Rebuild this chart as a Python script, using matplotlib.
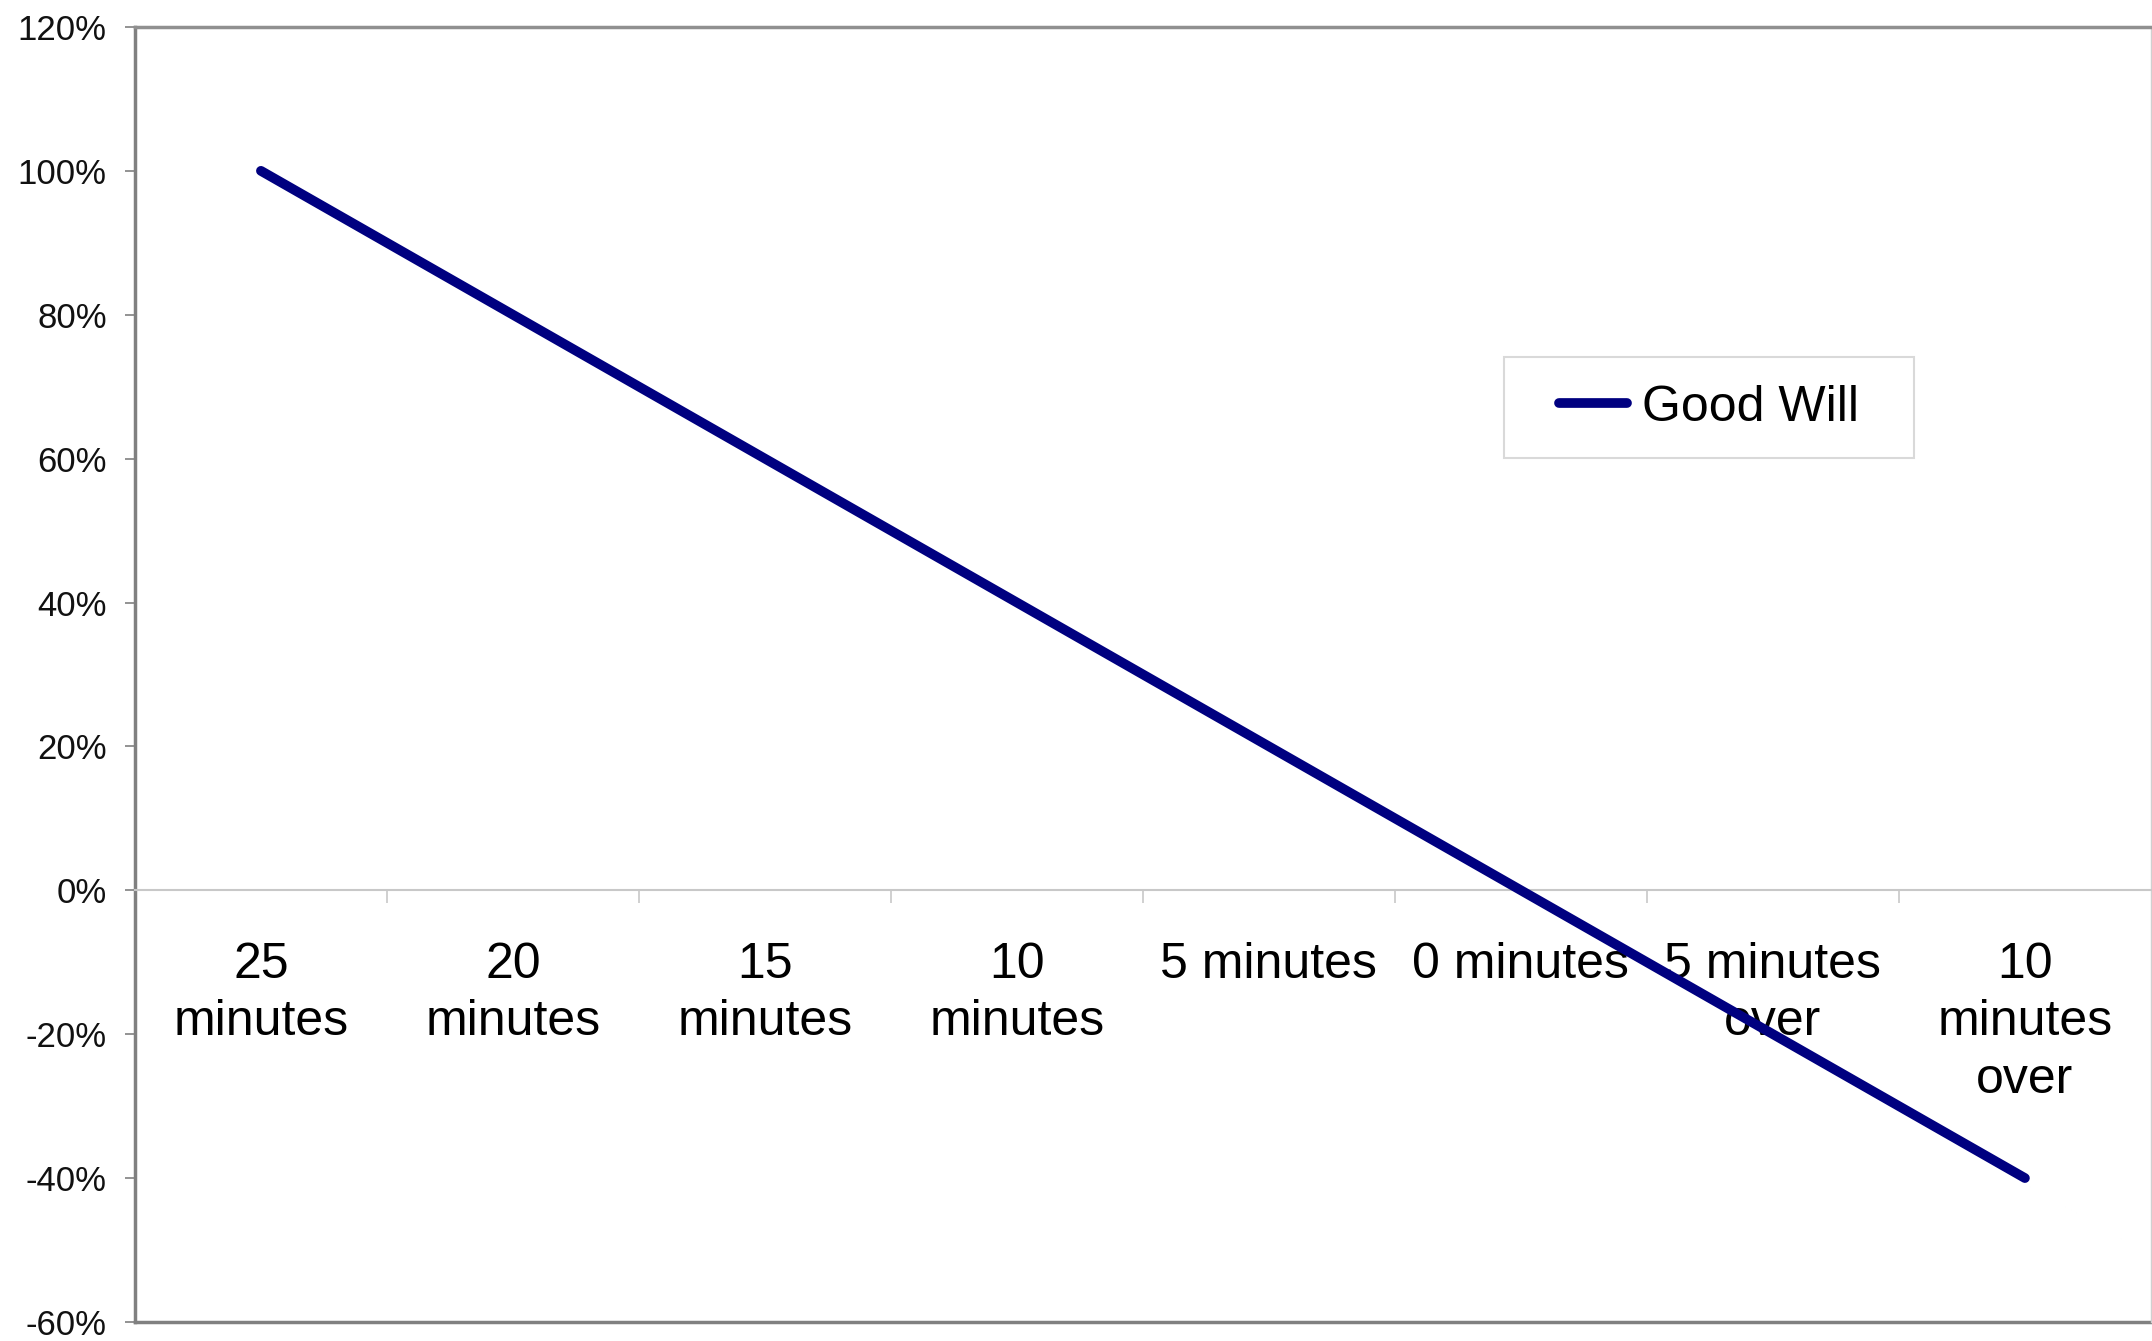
import numpy as np
import matplotlib.pyplot as plt
from matplotlib.patches import Rectangle

plt.rcParams['font.family'] = ['Liberation Sans', 'DejaVu Sans']

categories = ["25\nminutes", "20\nminutes", "15\nminutes", "10\nminutes",
              "5 minutes", "0 minutes", "5 minutes\nover", "10\nminutes\nover"]
good_will = [100, 80, 60, 40, 20, 0, -20, -40]
y_ticks = [-60, -40, -20, 0, 20, 40, 60, 80, 100, 120]

fig = plt.figure(figsize=(21.52, 13.41), dpi=100)
ax = fig.add_axes([0.0627, 0.0142, 0.9368, 0.9657])

x = np.arange(len(categories))
ax.plot(x, good_will, color="#000080", lw=7, solid_capstyle="round",
        zorder=5, label="Good Will")

ax.set_xlim(-0.5, len(categories) - 0.5)
ax.set_ylim(y_ticks[0], y_ticks[-1])

# y axis: percent labels with plain hyphen minus
ax.set_yticks(y_ticks)
ax.set_yticklabels(["{}%".format(v) for v in y_ticks])
ax.tick_params(axis="y", direction="out", length=7.2, width=1.2,
               color="#808080", pad=13, labelsize=25, labelcolor="#111111")

# x axis sits on the zero line, category labels between boundary ticks
ax.spines["bottom"].set_position(("data", 0))
ax.set_xticks(x)
ax.set_xticklabels(categories, linespacing=1.32)
ax.set_xticks(np.arange(0.5, len(categories) - 1, 1), minor=True)
ax.tick_params(axis="x", which="major", length=0, pad=37, labelsize=36)
ax.tick_params(axis="x", which="minor", direction="out", length=9.5,
               width=1.2, color="#c8c8c8")

# frame
ax.spines["bottom"].set_color("#c8c8c8")
ax.spines["bottom"].set_linewidth(1.5)
ax.spines["left"].set_color("#808080")
ax.spines["left"].set_linewidth(2.5)
ax.spines["top"].set_color("#909090")
ax.spines["top"].set_linewidth(2.5)
ax.spines["right"].set_color("#d0d0d0")
ax.spines["right"].set_linewidth(1)
ax.axhline(y_ticks[0], color="#808080", lw=2.5, clip_on=False)

# legend with a wider box than its contents
ax.legend(loc="center", bbox_to_anchor=(0.781, 0.706), frameon=False,
          fontsize=36, handlelength=1.35, handletextpad=0.31,
          borderpad=0, borderaxespad=0)
ax.add_patch(Rectangle((0.679, 0.667), 0.2035, 0.078, transform=ax.transAxes,
                       fill=False, edgecolor="#d9d9d9", lw=1.5))

fig.savefig("out.png", dpi=100)
